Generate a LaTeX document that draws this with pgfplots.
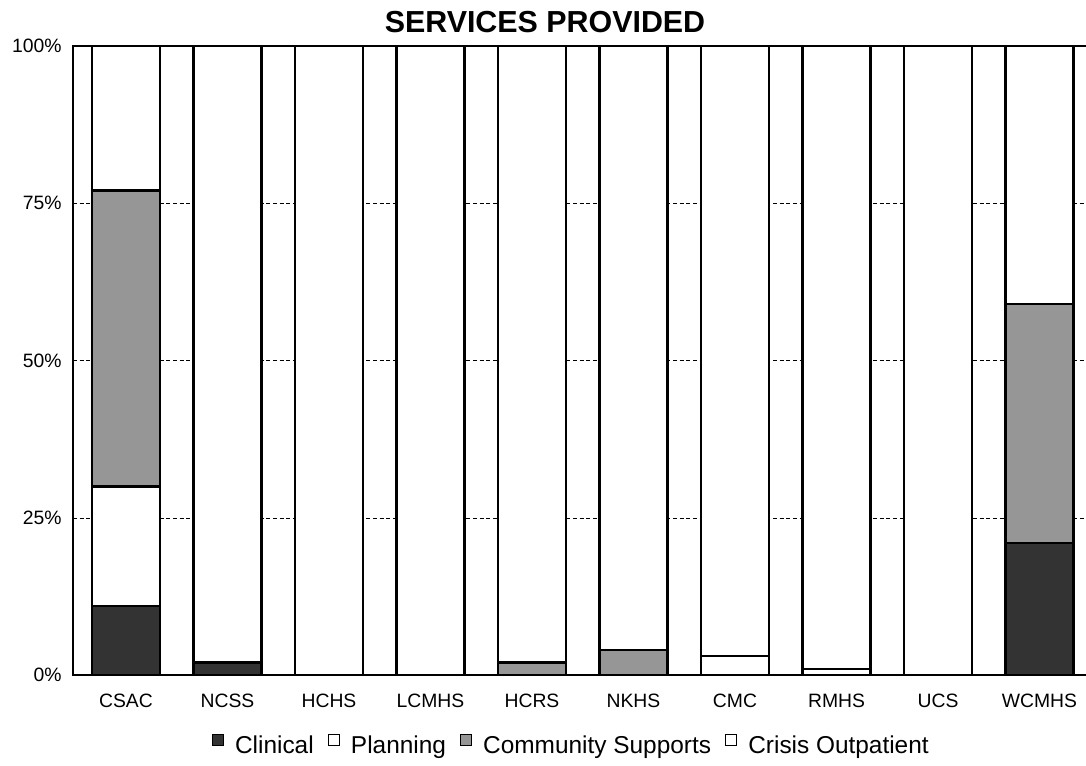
\documentclass[border=0pt]{standalone}
\usepackage{pgfplots}
\usepackage{pgfplotstable}
\pgfplotsset{compat=1.18}
\usepackage{fontspec}
\setmainfont{Liberation Sans}
\definecolor{clin}{HTML}{333333}
\definecolor{comm}{HTML}{969696}

\pgfplotstableread{
x Clinical Planning Community Crisis
0 11 19 47 23
1 2 0 0 98
2 0 0 0 100
3 0 0 0 100
4 0 0 2 98
5 0 0 4 96
6 0 3 0 97
7 0 1 0 99
8 0 0 0 100
9 21 0 38 41
}\datatable

\begin{document}
\begin{tikzpicture}
\useasboundingbox (-54.75pt,-67.5pt) rectangle (759.7pt,506.25pt);
\begin{axis}[
  at={(0,0)}, anchor=south west,
  scale only axis,
  width=766.7pt, height=471.75pt,
  ybar stacked,
  bar width=51pt,
  xmin=-0.522, xmax=9.55,
  ymin=0, ymax=100,
  xtick=data,
  xticklabels={CSAC,NCSS,HCHS,LCMHS,HCRS,NKHS,CMC,RMHS,UCS,WCMHS},
  ytick={0,25,50,75,100},
  yticklabels={0\%,25\%,50\%,75\%,100\%},
  ymajorgrids,
  grid style={densely dashed, black, line width=0.4pt},
  major tick length=0pt,
  axis line style={line width=1.8pt},
  tick label style={font=\fontsize{14.5}{17}\selectfont},
  yticklabel style={anchor=east, xshift=-5pt},
  xticklabel style={anchor=north, yshift=-11pt},
  title={\textbf{SERVICES PROVIDED}},
  title style={at={(0.4617,1)}, anchor=base, yshift=3.75pt, font=\fontsize{22.8}{26}\selectfont},
  legend style={at={(0.4877,-0.113)}, anchor=center, draw=none,
    font=\fontsize{18.3}{21}\selectfont, column sep=6.5pt,
    /tikz/every even column/.append style={column sep=8.5pt}},
  legend columns=4,
  legend image code/.code={\draw[#1, line width=0.7pt] (0pt,0.5pt) rectangle (8.25pt,8.75pt);},
]
\addplot[fill=clin, draw=black, line width=1.8pt] table[x=x, y=Clinical] {\datatable};
\addplot[fill=white, draw=black, line width=1.8pt] table[x=x, y=Planning] {\datatable};
\addplot[fill=comm, draw=black, line width=1.8pt] table[x=x, y=Community] {\datatable};
\addplot[fill=white, draw=black, line width=1.8pt] table[x=x, y=Crisis] {\datatable};
\legend{Clinical,Planning,Community Supports,Crisis Outpatient}
\end{axis}
\end{tikzpicture}
\end{document}
